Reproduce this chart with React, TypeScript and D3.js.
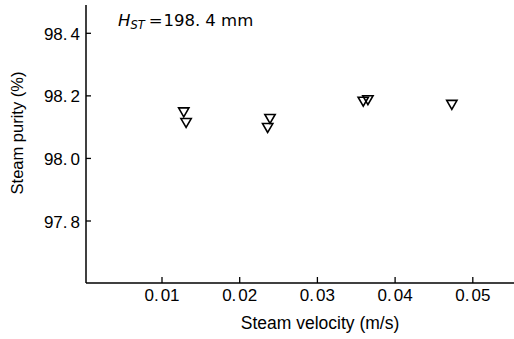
import React from "react";
import * as d3 from "d3";

const velocity = [0.0128, 0.0131, 0.0239, 0.0236, 0.0359, 0.0365, 0.0473];
const purity = [98.152, 98.118, 98.131, 98.102, 98.186, 98.191, 98.176];
const xTicks = [0.01, 0.02, 0.03, 0.04, 0.05];
const yTicks = [97.8, 98.0, 98.2, 98.4];

const W = 514;
const H = 339;

export default function App() {
  const x = d3.scaleLinear().domain([0, 0.055]).range([84.3, 511.65]);
  const y = d3.scaleLinear().domain([97.8, 98.4]).range([221, 33.3]);
  const axisX = 86;
  const axisY = 283;
  const tickFont = "'Liberation Sans', Arial, sans-serif";
  const font = "'Liberation Sans', Arial, sans-serif";
  const titleFont = "'DejaVu Sans', sans-serif";
  const tri = d3.symbol().type(d3.symbolTriangle).size(46)();

  const splitLabel = (s: string) => {
    const i = s.indexOf(".");
    return [s.slice(0, i + 1), s.slice(i + 1)];
  };

  return (
    <svg width={W} height={H} style={{ position: "absolute", left: 0, top: 0, background: "#fff" }}>
      <rect x={0} y={0} width={W} height={H} fill="#fff" />
      {/* axes */}
      <line x1={axisX} y1={5} x2={axisX} y2={axisY} stroke="#000" strokeWidth={1.5} />
      <line x1={axisX} y1={axisY} x2={W} y2={axisY} stroke="#000" strokeWidth={1.5} />
      {xTicks.map((t) => {
        const [a, b] = splitLabel(t.toFixed(2));
        return (
          <g key={"x" + t}>
            <line x1={x(t)} x2={x(t)} y1={axisY} y2={axisY - 6} stroke="#000" strokeWidth={1.3} />
            <text x={x(t)} y={301} textAnchor="middle" fontFamily={tickFont} fontSize={17} fill="#000">
              {a}
              <tspan dx={2}>{b}</tspan>
            </text>
          </g>
        );
      })}
      {yTicks.map((t) => {
        const [a, b] = splitLabel(t.toFixed(1));
        return (
          <g key={"y" + t}>
            <line x1={axisX} x2={axisX + 5} y1={y(t)} y2={y(t)} stroke="#000" strokeWidth={1.3} />
            <text x={80} y={y(t) + 6.5} textAnchor="end" fontFamily={tickFont} fontSize={17} fill="#000">
              {a}
              <tspan dx={3}>{b}</tspan>
            </text>
          </g>
        );
      })}
      {/* data */}
      {velocity.map((v, i) => (
        <path
          key={"p" + i}
          d={tri as string}
          transform={`translate(${x(v)},${y(purity[i])}) rotate(180)`}
          fill="none"
          stroke="#000"
          strokeWidth={1.6}
        />
      ))}
      {/* annotation */}
      <text x={118} y={26} fontFamily={titleFont} fontSize={16.5} fill="#000">
        <tspan fontStyle="italic">H</tspan>
        <tspan fontStyle="italic" fontSize={11.5} dy={3}>ST</tspan>
        <tspan dy={-3} dx={4}>=</tspan>
        <tspan dx={1}>198.</tspan>
        <tspan dx={5}>4 mm</tspan>
      </text>
      {/* axis labels */}
      <text x={320} y={329} textAnchor="middle" fontFamily={font} fontSize={17.5} fill="#000">
        Steam velocity (m/s)
      </text>
      <text
        transform={`translate(23,133) rotate(-90)`}
        textAnchor="middle"
        fontFamily={font}
        fontSize={16.5}
        fill="#000"
      >
        Steam purity (%)
      </text>
    </svg>
  );
}
